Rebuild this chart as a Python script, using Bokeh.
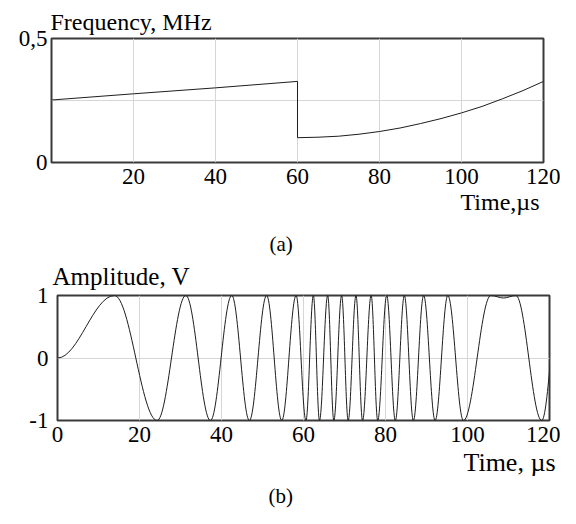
import numpy as np
from bokeh.plotting import figure
from bokeh.models import Range1d, FixedTicker, Title
from bokeh.embed import file_html
from bokeh.resources import INLINE

# ---- data (a): instantaneous frequency, MHz vs time, us
freq_t = [0, 20, 40, 60, 60, 65, 70, 75, 80, 85, 90, 95, 100, 105, 110, 115, 120]
freq_v = [0.252, 0.277, 0.301, 0.327, 0.100, 0.102, 0.106, 0.114, 0.125, 0.139,
          0.157, 0.177, 0.200, 0.226, 0.257, 0.290, 0.327]
a_xticks = [20, 40, 60, 80, 100, 120]
a_yticks = [0, 0.25, 0.5]
a_ylabels = {0: "0", 0.25: "", 0.5: "0,5"}

# ---- data (b): signal extrema (time, us ; amplitude, V)
ext_t = [0, 13.9, 24.3, 31.3, 37.3, 42.5, 46.8, 51.0, 54.7, 58.2, 60.6, 62.4, 63.9,
         65.9, 67.4, 69.3, 70.9, 72.8, 74.4, 76.5, 78.1, 80.3, 82.4, 84.6, 86.8,
         89.3, 92.1, 95.2, 99.0, 105.7, 108.8, 111.8, 118.1, 122.5]
ext_a = [0, 1, -1, 1, -1, 1, -1, 1, -1, 1, -1, 1, -1,
         1, -1, 1, -1, 1, -1, 1, -1, 1, -1, 1, -1,
         1, -1, 1, -1, 1, 0.96, 1, -1, 1]
b_xticks = [0, 20, 40, 60, 80, 100, 120]
b_yticks = [-1, 0, 1]
b_ylabels = {-1: "-1", 0: "0", 1: "1"}

FONT = "Liberation Serif"
GRID = "#d6d6d6"
FRAME = "#3a3a3a"
INK = "#1e1e1e"


def style(p, xt, yt, ylab, size, ystand):
    p.background_fill_color = "white"
    p.border_fill_color = "white"
    p.outline_line_color = FRAME
    p.outline_line_width = 2
    for ax in (p.xaxis[0], p.yaxis[0]):
        ax.axis_line_color = None
        ax.major_tick_line_color = None
        ax.minor_tick_line_color = None
        ax.major_tick_out = 0
        ax.major_tick_in = 0
        ax.minor_tick_out = 0
        ax.minor_tick_in = 0
        ax.major_label_text_font = FONT
        ax.major_label_text_font_size = size
        ax.major_label_text_color = "black"
    p.xaxis.ticker = FixedTicker(ticks=xt)
    p.yaxis.ticker = FixedTicker(ticks=yt)
    p.yaxis.major_label_overrides = ylab
    p.xaxis.major_label_standoff = 6
    p.yaxis.major_label_standoff = ystand
    p.xgrid.ticker = FixedTicker(ticks=xt)
    p.ygrid.ticker = FixedTicker(ticks=yt)
    p.xgrid.grid_line_color = GRID
    p.ygrid.grid_line_color = GRID


def set_title(t, text, align, offset, standoff, size):
    t.text = text
    t.align = align
    t.offset = offset
    t.standoff = standoff
    t.text_font = FONT
    t.text_font_size = size
    t.text_font_style = "normal"
    t.text_color = "black"


def add_title(p, where, text, align, offset, standoff, size):
    t = Title()
    set_title(t, text, align, offset, standoff, size)
    p.add_layout(t, where)


# ---------------- panel (a)
fa = figure(width=560, height=224, output_backend="svg", toolbar_location=None,
            x_range=Range1d(0, 120), y_range=Range1d(0, 0.5),
            min_border_left=51, min_border_right=17, min_border_top=38,
            min_border_bottom=62)
style(fa, a_xticks, a_yticks, a_ylabels, "23px", 4)
fa.line(freq_t, freq_v, line_color=INK, line_width=1)
set_title(fa.title, "Frequency, MHz", "left", -1, 8, "24px")
add_title(fa, "below", "Time,µs", "right", 4, 0, "24px")

# ---------------- panel (b)
fb = figure(width=560, height=292, output_backend="svg", toolbar_location=None,
            x_range=Range1d(0, 120), y_range=Range1d(-1, 1),
            min_border_left=57, min_border_right=11, min_border_top=71,
            min_border_bottom=96)
style(fb, b_xticks, b_yticks, b_ylabels, "23px", 9)

t = np.array(ext_t, dtype=float)
a = np.array(ext_a, dtype=float)
k = 0.364  # handle length giving a half-cosine shape between extrema
x0, x1 = t[:-1], t[1:]
y0, y1 = a[:-1], a[1:]
dt = x1 - x0
fb.bezier(x0=x0, y0=y0, x1=x1, y1=y1, cx0=x0 + k * dt, cy0=y0,
          cx1=x1 - k * dt, cy1=y1, line_color=INK, line_width=1)
# caption of panel (a) sits in the top border of panel (b)
set_title(fb.title, "(a)", "left", 212, 0, "21px")
add_title(fb, "above", "Amplitude, V", "left", -5, 11, "25px")
add_title(fb, "below", "Time, µs", "right", -6, 3, "26px")
add_title(fb, "below", "(b)", "left", 211, 6, "21px")

open("out.html", "w").write(file_html([fa, fb], INLINE))
